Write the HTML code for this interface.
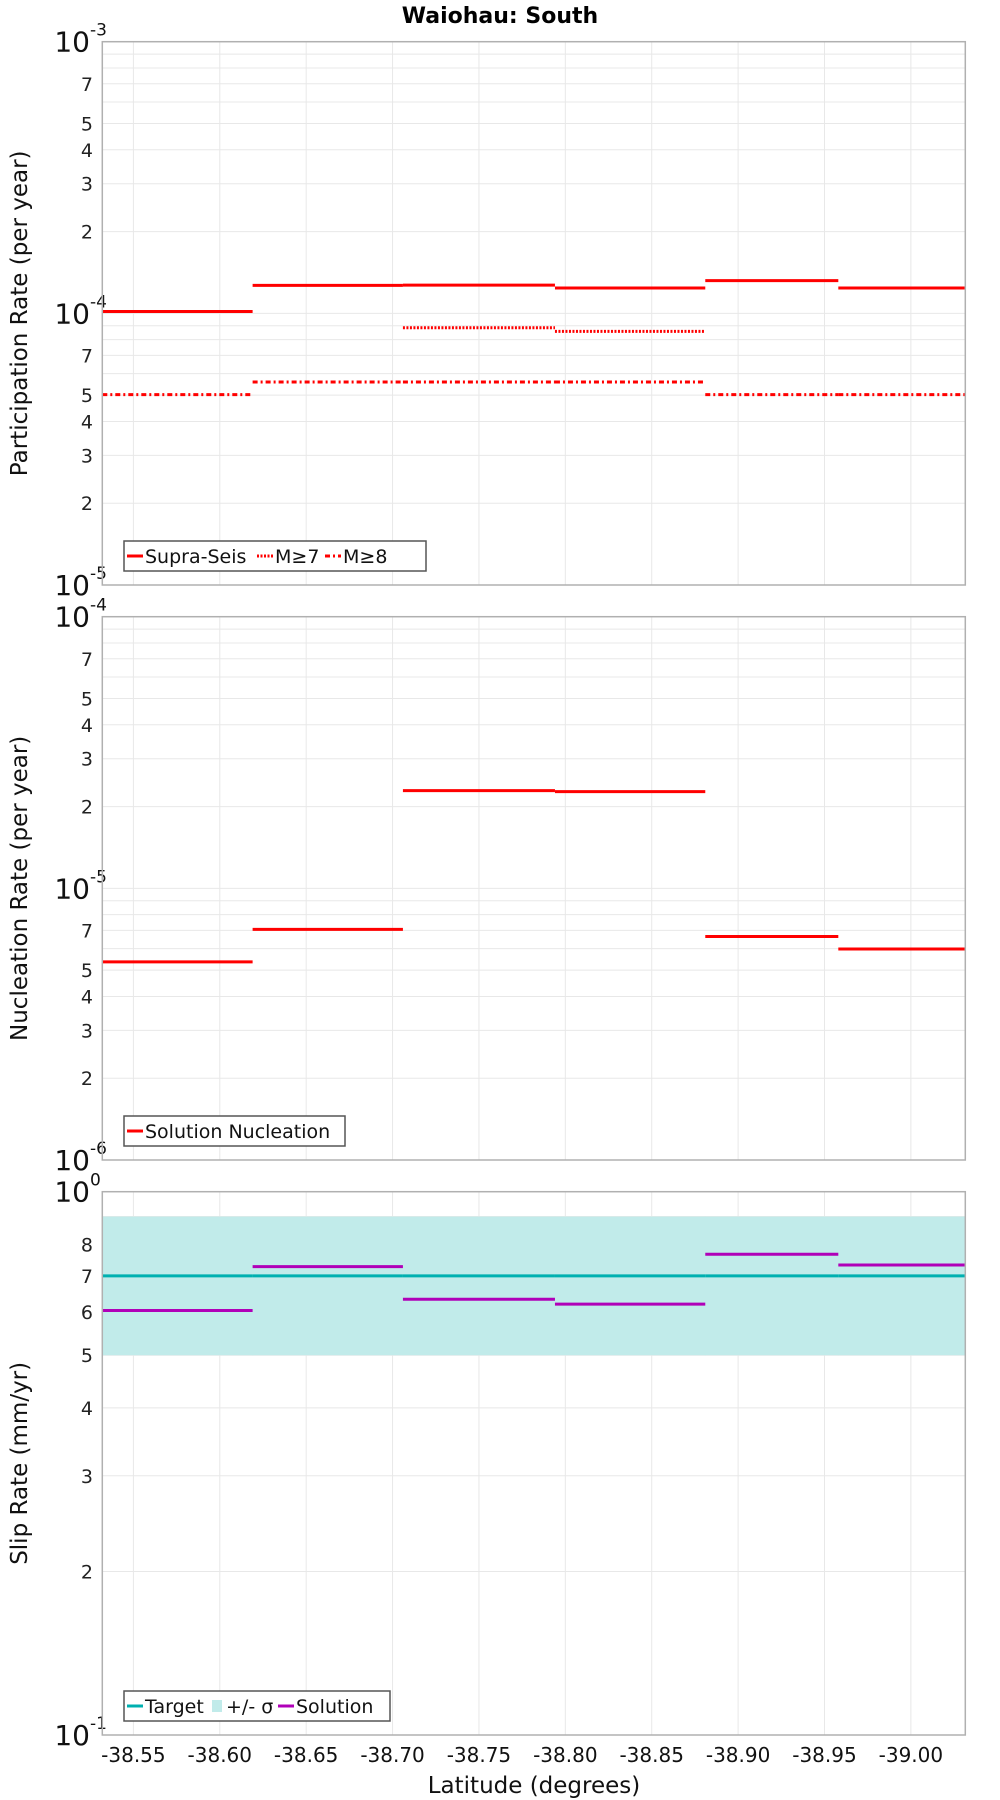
<!DOCTYPE html>
<html><head><meta charset="utf-8">
<style>
html,body{margin:0;padding:0;background:#fff;}
svg{display:block;font-family:"DejaVu Sans","Liberation Sans",sans-serif;}
</style></head>
<body>
<svg id="chart" width="1000" height="1800" viewBox="0 0 1000 1800" xmlns="http://www.w3.org/2000/svg">
<text x="500" y="23" text-anchor="middle" font-size="22" font-weight="bold">Waiohau: South</text>
</svg>
<script>
// Data
const segEdges = [-38.532, -38.619, -38.706, -38.794, -38.881, -38.958, -39.0315];
const xTicks = [-38.55, -38.60, -38.65, -38.70, -38.75, -38.80, -38.85, -38.90, -38.95, -39.00];
const xTickLabels = ["-38.55","-38.60","-38.65","-38.70","-38.75","-38.80","-38.85","-38.90","-38.95","-39.00"];
const supraSeis = [1.016e-4, 1.267e-4, 1.27e-4, 1.24e-4, 1.32e-4, 1.24e-4];
const m7Rate = [null, null, 8.85e-5, 8.58e-5, null, null];
const m8Rate = [5.02e-5, 5.59e-5, 5.59e-5, 5.59e-5, 5.02e-5, 5.02e-5];
const nucleation = [5.36e-6, 7.06e-6, 2.29e-5, 2.27e-5, 6.65e-6, 5.98e-6];
const slipTarget = [0.7, 0.7, 0.7, 0.7, 0.7, 0.7];
const slipLow = [0.5, 0.5, 0.5, 0.5, 0.5, 0.5];
const slipHigh = [0.9, 0.9, 0.9, 0.9, 0.9, 0.9];
const slipSolution = [0.6045, 0.728, 0.634, 0.621, 0.767, 0.733];

const NS = "http://www.w3.org/2000/svg";
const svg = document.getElementById("chart");
const L = 102.3, R = 965.3;
const latMin = -38.532, latMax = -39.0315;
function xScale(lat){ return L + (lat - latMin) / (latMax - latMin) * (R - L); }
function mk(tag, attrs, parent){
  const e = document.createElementNS(NS, tag);
  for (const k in attrs) e.setAttribute(k, attrs[k]);
  (parent || svg).appendChild(e);
  return e;
}
function makeY(top, bottom, lo, hi){
  const a = Math.log10(lo), b = Math.log10(hi);
  return v => bottom - (Math.log10(v) - a) / (b - a) * (bottom - top);
}

function panel(name, top, bottom, lo, hi, minorLabels, title){
  const g = mk("g", {});
  
  
  const y = makeY(top, bottom, lo, hi);
  const a = Math.round(Math.log10(lo)), b = Math.round(Math.log10(hi));
  for (let d = a; d < b; d++){
    for (let m = 2; m <= 9; m++){
      const v = m * Math.pow(10, d);
      const yy = y(v);
      const gl = mk("line", {x1:L, x2:R, y1:yy, y2:yy, stroke:"#e8e8e8", "stroke-width":1}, g);
      
      
      if (minorLabels.indexOf(m) >= 0){
        const t = mk("text", {x:93, y:yy+7, "text-anchor":"end", "font-size":19, fill:"#222"}, g);
        
        
        t.textContent = String(m);
      }
    }
  }
  // decade labels
  for (let d = a; d <= b; d++){
    const yy = y(Math.pow(10, d));
    if (d > a && d < b){
      const gl = mk("line", {x1:L, x2:R, y1:yy, y2:yy, stroke:"#e8e8e8", "stroke-width":1}, g);
      
      
    }
    const t = mk("text", {x:90, y:yy+10, "text-anchor":"end", "font-size":28, fill:"#111"}, g);
    
    
    t.textContent = "10";
    const s = mk("text", {x:90, y:yy-6, "text-anchor":"start", "font-size":17, fill:"#111"}, g);
    
    
    s.textContent = String(d);
  }
  xTicks.forEach(v => {
    const xx = xScale(v);
    const gl = mk("line", {x1:xx, x2:xx, y1:top, y2:bottom, stroke:"#e8e8e8", "stroke-width":1}, g);
    
    
  });
  const cy = (top + bottom) / 2;
  const at = mk("text", {x:0, y:0, transform:`translate(27,${cy}) rotate(-90)`, "text-anchor":"middle", "font-size":23, fill:"#111"}, g);
  
  
  at.textContent = title;
  return {g, y};
}
function frame(top, bottom){
  const f = mk("rect", {x:L, y:top, width:R-L, height:bottom-top, fill:"none", stroke:"#b0b0b0", "stroke-width":1.5});
  
  
}
function steps(g, y, vals, color, dash, name){
  vals.forEach((v, i) => {
    if (v === null) return;
    const yy = y(v);
    const attrs = {x1:xScale(segEdges[i]), x2:xScale(segEdges[i+1]), y1:yy, y2:yy, stroke:color, "stroke-width":3};
    if (dash) attrs["stroke-dasharray"] = dash;
    const ln = mk("line", attrs, g);
    
    
  });
}
function legend(x, y, w, items){
  const g = mk("g", {});
  
  
  const box = mk("rect", {x:x, y:y, width:w, height:30, fill:"#fff", stroke:"#555", "stroke-width":1.5}, g);
  
  
  let cx = x + 3;
  items.forEach(it => {
    const e = mk("g", {}, g);
    
    
    if (it.square){
      mk("rect", {x:cx+3, y:y+9, width:10, height:12, fill:it.color}, e);
      cx += 17;
    } else {
      const a = {x1:cx, x2:cx+16, y1:y+15, y2:y+15, stroke:it.color, "stroke-width":3};
      if (it.dash) a["stroke-dasharray"] = it.dash;
      mk("line", a, e);
      cx += 18;
    }
    const t = mk("text", {x:cx, y:y+22, "font-size":19, fill:"#111"}, e);
    t.textContent = it.label;
    cx += it.w;
  });
}

const p1 = panel("participation", 41.7, 585, 1e-5, 1e-3, [2,3,4,5,7], "Participation Rate (per year)");
steps(p1.g, p1.y, supraSeis, "#ff0000", null, "supra-seis");
steps(p1.g, p1.y, m7Rate, "#ff0000", "2,1.5", "m7");
steps(p1.g, p1.y, m8Rate, "#ff0000", "5,3,2,3", "m8");
frame(41.7, 585);
legend(124, 541, 302, [
  {label:"Supra-Seis", color:"#f00", w:112},
  {label:"M≥7", color:"#f00", dash:"2,1.5", w:50},
  {label:"M≥8", color:"#f00", dash:"5,3,2,3", w:50}
]);

const p2 = panel("nucleation", 616.7, 1160, 1e-6, 1e-4, [2,3,4,5,7], "Nucleation Rate (per year)");
steps(p2.g, p2.y, nucleation, "#ff0000", null, "solution-nucleation");
frame(616.7, 1160);
legend(124, 1116, 221, [{label:"Solution Nucleation", color:"#f00", w:190}]);

const p3 = panel("slip-rate", 1191.7, 1735, 0.1, 1, [2,3,4,5,6,7,8], "Slip Rate (mm/yr)");
slipLow.forEach((v, i) => {
  const yt = p3.y(slipHigh[i]), yb = p3.y(v);
  const x0 = xScale(segEdges[i]), x1 = xScale(segEdges[i+1]);
  const r = mk("rect", {x:x0-0.5, y:yt, width:x1-x0+1, height:yb-yt, fill:"#c1ebea"}, p3.g);
  
  
});
steps(p3.g, p3.y, slipTarget, "#00b0b0", null, "target");
steps(p3.g, p3.y, slipSolution, "#b000b8", null, "solution");
frame(1191.7, 1735);
legend(124, 1691, 266, [
  {label:"Target", color:"#00b0b0", w:64},
  {label:"+/- σ", color:"#c1ebea", square:true, w:52},
  {label:"Solution", color:"#b000b8", w:80}
]);

xTicks.forEach((v, i) => {
  const t = mk("text", {x:xScale(v), y:1762, "text-anchor":"middle", "font-size":20, fill:"#111"});
  
  
  t.textContent = xTickLabels[i];
});
const xt = mk("text", {x:534, y:1793, "text-anchor":"middle", "font-size":23, fill:"#111"});


xt.textContent = "Latitude (degrees)";
</script>
</body></html>
